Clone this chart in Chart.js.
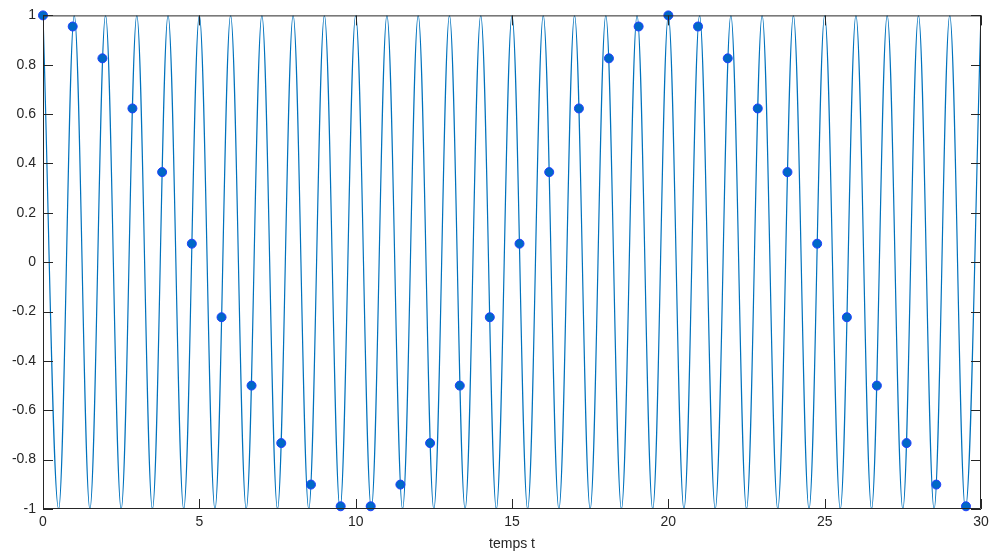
<!DOCTYPE html>
<html>
<head>
<meta charset="utf-8">
<script src="https://cdn.jsdelivr.net/npm/chart.js@4"></script>
<style>
  html, body { margin: 0; padding: 0; background: #fff; }
  #wrap { width: 991px; height: 553px; }
</style>
</head>
<body>
<div id="wrap"><canvas id="sig"></canvas></div>
<script>
// Continuous signal: peaks and troughs (1 Hz cosine)
const peakTimes = [0, 0.5, 1, 1.5, 2, 2.5, 3, 3.5, 4, 4.5, 5, 5.5, 6, 6.5, 7, 7.5, 8, 8.5, 9, 9.5,
  10, 10.5, 11, 11.5, 12, 12.5, 13, 13.5, 14, 14.5, 15, 15.5, 16, 16.5, 17, 17.5, 18, 18.5, 19, 19.5,
  20, 20.5, 21, 21.5, 22, 22.5, 23, 23.5, 24, 24.5, 25, 25.5, 26, 26.5, 27, 27.5, 28, 28.5, 29, 29.5, 30];
const peakValues = [1, -1, 1, -1, 1, -1, 1, -1, 1, -1, 1, -1, 1, -1, 1, -1, 1, -1, 1, -1,
  1, -1, 1, -1, 1, -1, 1, -1, 1, -1, 1, -1, 1, -1, 1, -1, 1, -1, 1, -1,
  1, -1, 1, -1, 1, -1, 1, -1, 1, -1, 1, -1, 1, -1, 1, -1, 1, -1, 1, -1, 1];

// Sampled points
const sampleTimes = [0, 0.95, 1.9, 2.86, 3.81, 4.76, 5.71, 6.67, 7.62, 8.57, 9.52, 10.48, 11.43, 12.38,
  13.33, 14.29, 15.24, 16.19, 17.14, 18.1, 19.05, 20, 20.95, 21.9, 22.86, 23.81, 24.76, 25.71,
  26.67, 27.62, 28.57, 29.52];
const sampleValues = [1, 0.955, 0.826, 0.623, 0.365, 0.075, -0.223, -0.5, -0.733, -0.901, -0.989, -0.989,
  -0.901, -0.733, -0.5, -0.223, 0.075, 0.365, 0.623, 0.826, 0.955, 1, 0.955, 0.826, 0.623, 0.365,
  0.075, -0.223, -0.5, -0.733, -0.901, -0.989];

const xTicks = [0, 5, 10, 15, 20, 25, 30];
const yTicks = [-1, -0.8, -0.6, -0.4, -0.2, 0, 0.2, 0.4, 0.6, 0.8, 1];

const axisColor = '#262626';
const fontSpec = { family: 'Liberation Sans, Arial, sans-serif', size: 14 };

// Box and inward tick marks (MATLAB style)
const boxPlugin = {
  id: 'boxTicks',
  afterDatasetsDraw(chart) {
    const { ctx, chartArea: a, scales } = chart;
    ctx.save();
    ctx.strokeStyle = axisColor;
    ctx.lineWidth = 1;
    ctx.beginPath();
    ctx.rect(a.left + 0.5, a.top + 0.5, a.right - a.left - 1, a.bottom - a.top - 1);
    ctx.stroke();
    const len = 10;
    ctx.beginPath();
    xTicks.forEach(v => {
      const px = Math.round(scales.x.getPixelForValue(v)) + 0.5;
      ctx.moveTo(px, a.bottom); ctx.lineTo(px, a.bottom - len);
      ctx.moveTo(px, a.top); ctx.lineTo(px, a.top + len);
    });
    yTicks.forEach(v => {
      const py = Math.round(scales.y.getPixelForValue(v)) + 0.5;
      ctx.moveTo(a.left, py); ctx.lineTo(a.left + len, py);
      ctx.moveTo(a.right, py); ctx.lineTo(a.right - len, py);
    });
    ctx.stroke();
    ctx.restore();
  }
};

new Chart(document.getElementById('sig'), {
  type: 'scatter',
  data: {
    datasets: [{
      label: 'echantillons',
      data: sampleTimes.map((t, i) => ({ x: t, y: sampleValues[i] })),
      showLine: false,
      pointRadius: 4.5,
      pointBackgroundColor: '#0068c6',
      pointBorderColor: '#1f3dff',
      pointBorderWidth: 1,
      clip: false,
      order: 0
    }, {
      label: 'signal',
      data: peakTimes.map((t, i) => ({ x: t, y: peakValues[i] })),
      showLine: true,
      borderColor: '#0072bd',
      borderWidth: 1.2,
      pointRadius: 0,
      tension: 0.36,
      order: 1
    }]
  },
  options: {
    responsive: true,
    maintainAspectRatio: false,
    animation: false,
    layout: { padding: { top: 15, right: 10, left: 0, bottom: 0 } },
    plugins: {
      legend: { display: false },
      tooltip: { enabled: false }
    },
    scales: {
      x: {
        type: 'linear',
        min: 0, max: 30,
        afterBuildTicks: s => { s.ticks = xTicks.map(v => ({ value: v })); },
        afterFit: s => { s.height = 44; s.paddingRight = 0; s.paddingLeft = 0; },
        grid: { display: false, drawTicks: false },
        border: { display: false },
        ticks: { color: axisColor, font: fontSpec, padding: 5, maxRotation: 0 },
        title: { display: true, text: 'temps t', color: axisColor, font: fontSpec, padding: { top: 0, bottom: 0 } }
      },
      y: {
        type: 'linear',
        min: -1, max: 1,
        afterBuildTicks: s => { s.ticks = yTicks.map(v => ({ value: v })); },
        afterFit: s => { s.width = 43; },
        grid: { display: false, drawTicks: false },
        border: { display: false },
        ticks: { color: axisColor, font: fontSpec, padding: 7, callback: v => String(Math.round(v * 10) / 10) }
      }
    }
  },
  plugins: [boxPlugin]
});
</script>
</body>
</html>
